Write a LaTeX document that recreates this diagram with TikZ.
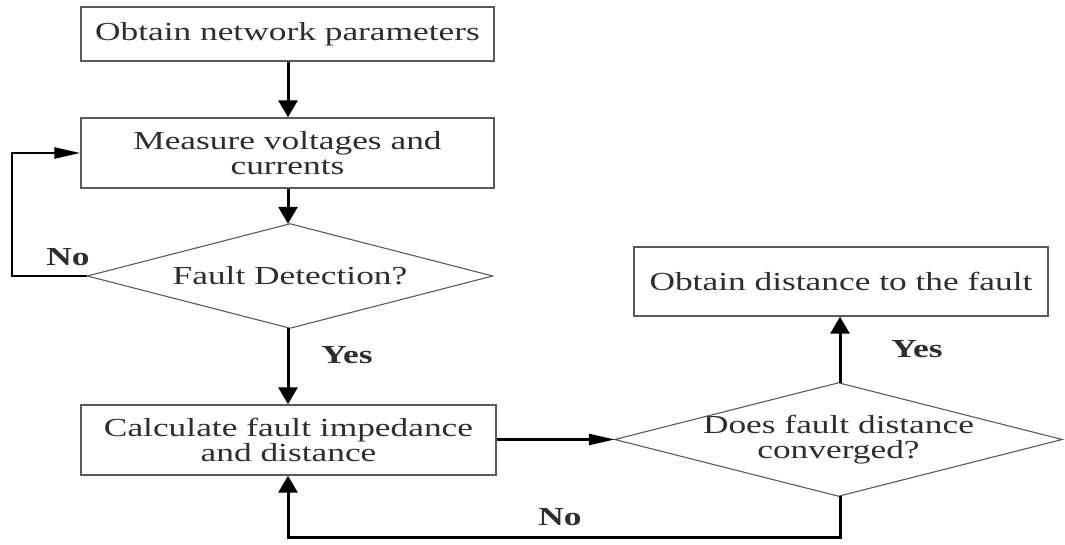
\documentclass[tikz,border=0pt]{standalone}
\usepackage{fontspec}
\setmainfont{Liberation Serif}[FakeStretch=1.36]
\usetikzlibrary{arrows.meta}
\definecolor{ink}{HTML}{2E2E2E}
\definecolor{edge}{HTML}{5A5A5A}
\tikzset{
  procbox/.style={draw=edge, line width=1.4pt, fill=white, inner sep=0pt,
    align=center, text=ink, font=\fontsize{26}{25}\selectfont},
  % decision: text node whose rhombus outline is drawn through its side anchors
  decision/.style={inner sep=0pt, align=center, text=ink, font=\fontsize{26}{25}\selectfont},
  rhombus/.style={draw=edge, line width=1.1pt, line join=miter},
  flow/.style={line width=3pt, draw=black, -{Triangle[length=17pt,width=19pt]}},
  loopline/.style={line width=3pt, draw=black},
  thinflow/.style={line width=2.4pt, draw=black, -{Triangle[length=26pt,width=11pt]}},
  answer/.style={font=\fontsize{26}{26}\selectfont\bfseries, text=ink, inner sep=0pt}
}
\begin{document}
\begin{tikzpicture}[x=1pt,y=-1pt]
  \useasboundingbox (0,0) rectangle (1065,545);

  % process steps
  \node[procbox, minimum width=413pt, minimum height=54pt] (params) at (287.5,34) {Obtain network parameters};
  \node[procbox, minimum width=413pt, minimum height=70pt] (measure) at (287.5,153) {Measure voltages and\\currents};
  \node[decision, minimum width=405pt, minimum height=104pt] (detect) at (290,276) {Fault Detection?};
  \node[procbox, minimum width=415pt, minimum height=70pt] (calc) at (288.5,440) {Calculate fault impedance\\and distance};
  \node[decision, minimum width=447pt, minimum height=113pt] (conv) at (838.5,439.5) {Does fault distance\\converged?};
  \node[procbox, minimum width=414pt, minimum height=69pt] (result) at (841,281.5) {Obtain distance to the fault};

  % decision outlines
  \draw[rhombus] (detect.north) -- (detect.east) -- (detect.south) -- (detect.west) -- cycle;
  \draw[rhombus] (conv.north) -- (conv.east) -- (conv.south) -- (conv.west) -- cycle;

  % loop corners
  \coordinate (noLeft) at (12,276);
  \coordinate (noLeftTop) at (12,153);
  \coordinate (convLow) at (840,537);
  \coordinate (calcLow) at (288,537);

  % connectors
  \draw[flow] (params.south -| 288,0) -- (measure.north -| 288,0);
  \draw[flow] (measure.south -| 288,0) -- (detect.north -| 288,0);
  \draw[flow] (detect.south -| 288,0) -- (calc.north -| 288,0);
  \draw[thinflow] (detect.west) -- (noLeft) -- (noLeftTop) -- (measure.west);
  \draw[thinflow] (calc.east |- conv.west) -- (conv.west);
  \draw[flow] (conv.north -| 840,0) -- (result.south -| 840,0);
  \draw[loopline, line join=miter] (conv.south -| 840,0) -- (convLow) -- (calcLow) -- ++(0,-20);
  \draw[flow] (calcLow) -- (calc.south -| 288,0);

  % branch labels
  \node[answer] (noA) at (68,257) {No};
  \node[answer] (yesA) at (347,355) {Yes};
  \node[answer] (yesB) at (917,349) {Yes};
  \node[answer] (noB) at (560,517) {No};
\end{tikzpicture}
\end{document}
